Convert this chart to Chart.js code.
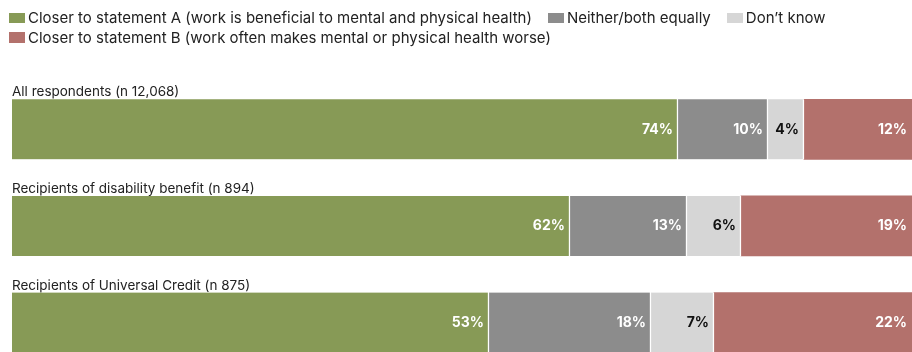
<!DOCTYPE html>
<html>
<head>
<meta charset="utf-8">
<script src="https://cdn.jsdelivr.net/npm/chart.js@4/dist/chart.umd.min.js"></script>
<style>
  html, body { margin: 0; padding: 0; background: #fff; overflow: hidden; }
  #wrap { position: relative; width: 912px; height: 352px; overflow: hidden; }
  #legend { position: absolute; left: 9px; top: 8px; width: 890px; display: flex; flex-wrap: wrap;
            font-family: Inter, "Liberation Sans", Arial, sans-serif; font-size: 15px; color: #222; line-height: 19.5px; }
  .item { display: flex; align-items: center; margin-right: 16px; white-space: nowrap; }
  .box { width: 16px; height: 10.5px; margin-right: 3px; }
  #c { position: absolute; left: 0; top: 0; }
</style>
</head>
<body>
<div id="wrap">
  <canvas id="c" width="912" height="379"></canvas>
  <div id="legend"></div>
</div>
<script>
// Survey groups
const categories = [
  "All respondents (n 12,068)",
  "Recipients of disability benefit (n 894)",
  "Recipients of Universal Credit (n 875)"
];
const seriesNames = [
  "Closer to statement A (work is beneficial to mental and physical health)",
  "Neither/both equally",
  "Don\u2019t know",
  "Closer to statement B (work often makes mental or physical health worse)"
];
// Shares of respondents, %
const statementA = [74, 62, 53];
const neither = [10, 13, 18];
const dontKnow = [4, 6, 7];
const statementB = [12, 19, 22];

const colors = ["#879a56", "#8c8c8c", "#d6d6d6", "#b3716c"];
const labelColors = ["#ffffff", "#ffffff", "#111111", "#ffffff"];
const seriesValues = [statementA, neither, dontKnow, statementB];

const datasets = seriesNames.map((name, i) => ({
  label: name,
  data: seriesValues[i],
  backgroundColor: colors[i],
  borderColor: "#ffffff",
  borderWidth: { right: i < 3 ? 1.5 : 0, left: 0, top: 0, bottom: 0 },
  borderSkipped: false,
  barThickness: 60,
  valueColor: labelColors[i]
}));

// Legend built from the same series
const legendEl = document.getElementById("legend");
datasets.forEach(ds => {
  const it = document.createElement("div");
  it.className = "item";
  const b = document.createElement("span");
  b.className = "box";
  b.style.background = ds.backgroundColor;
  const t = document.createElement("span");
  t.textContent = ds.label;
  it.appendChild(b); it.appendChild(t);
  legendEl.appendChild(it);
});

// Percentage labels at the right end of each segment
const valueLabels = {
  id: "valueLabels",
  afterDatasetsDraw(chart) {
    const ctx = chart.ctx;
    ctx.save();
    ctx.font = "bold 14px Inter, 'Liberation Sans', Arial, sans-serif";
    ctx.textAlign = "right";
    ctx.textBaseline = "middle";
    chart.data.datasets.forEach((ds, di) => {
      chart.getDatasetMeta(di).data.forEach((bar, idx) => {
        ctx.fillStyle = ds.valueColor;
        ctx.fillText(ds.data[idx] + "%", bar.x - 5, bar.y);
      });
    });
    ctx.restore();
  }
};

new Chart(document.getElementById("c"), {
  type: "bar",
  data: { labels: categories, datasets },
  plugins: [valueLabels],
  options: {
    indexAxis: "y",
    responsive: false,
    animation: false,
    layout: { padding: { left: 12, right: 0, top: 81, bottom: 0 } },
    plugins: { legend: { display: false }, tooltip: { enabled: false } },
    scales: {
      x: { stacked: true, min: 0, max: 100, display: false },
      y: {
        stacked: true,
        grid: { display: false },
        border: { display: false },
        afterFit: s => { s.width = 0; },
        ticks: {
          mirror: true,
          padding: 0,
          labelOffset: -37,
          color: "#222",
          font: { family: "Inter, 'Liberation Sans', Arial, sans-serif", size: 13.5 }
        }
      }
    }
  }
});
</script>
</body>
</html>
